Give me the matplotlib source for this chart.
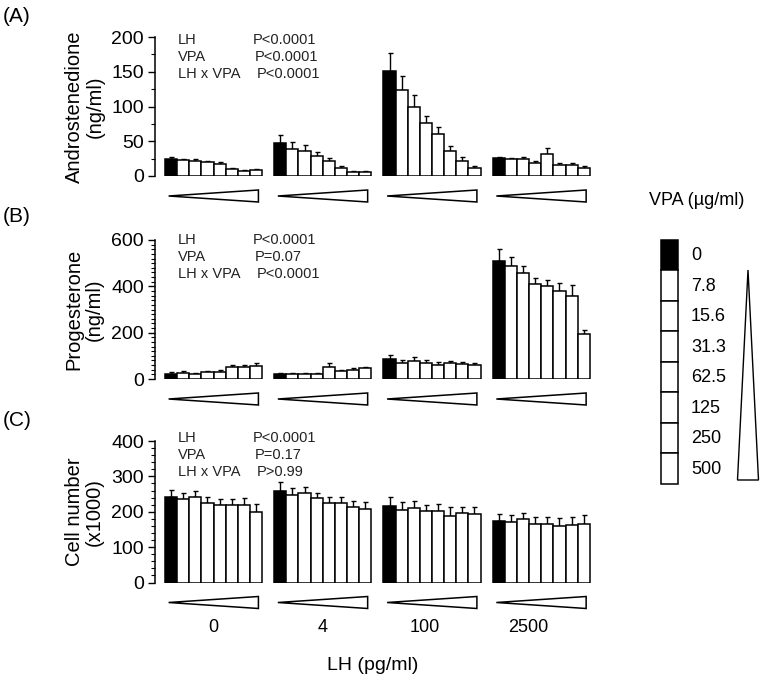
import numpy as np
import matplotlib
matplotlib.use("Agg")
import matplotlib.pyplot as plt
from matplotlib.patches import Polygon, Rectangle
import matplotlib.transforms as mtransforms

plt.rcParams['font.family'] = ['Liberation Sans', 'DejaVu Sans']

lh_levels = ['0', '4', '100', '2500']
vpa_levels = ['0', '7.8', '15.6', '31.3', '62.5', '125', '250', '500']

# mean and SEM per LH group (rows) and VPA dose (columns)
andro_mean = [[24, 23, 22, 19.5, 17, 10, 7, 8.5],
              [47, 39, 36, 29, 21, 12, 6, 6],
              [151, 124, 100, 76, 60, 36, 22, 11],
              [25.5, 24, 24, 19, 31, 16, 16, 12]]
andro_err = [[3, 2, 3, 2, 3, 1, 1, 1.5],
             [12, 10, 9, 6, 5, 2, 1, 1],
             [26, 20, 17, 11, 11, 7, 6, 3],
             [2, 2, 3, 2, 10, 2, 2, 2]]

prog_mean = [[20, 27, 21, 30, 31, 52, 52, 57],
             [21, 23, 23, 23, 52, 35, 40, 47],
             [88, 68, 79, 71, 61, 68, 65, 61],
             [511, 488, 457, 409, 401, 380, 357, 194]]
prog_err = [[10, 8, 5, 6, 6, 8, 10, 12],
            [4, 4, 4, 4, 18, 6, 8, 6],
            [17, 14, 18, 13, 13, 11, 8, 6],
            [48, 40, 30, 28, 28, 33, 50, 16]]

cell_mean = [[241, 236, 242, 226, 218, 218, 218, 200],
             [260, 248, 253, 239, 225, 225, 213, 208],
             [217, 204, 212, 201, 201, 189, 196, 194],
             [175, 171, 179, 165, 165, 161, 163, 164]]
cell_err = [[21, 17, 16, 17, 19, 18, 22, 21],
            [23, 19, 17, 15, 16, 16, 17, 19],
            [26, 23, 18, 19, 20, 24, 18, 19],
            [20, 19, 17, 20, 19, 20, 22, 26]]

stats_a = [('LH', 'P<0.0001'), ('VPA', 'P<0.0001'), ('LH x VPA', 'P<0.0001')]
stats_b = [('LH', 'P<0.0001'), ('VPA', 'P=0.07'), ('LH x VPA', 'P<0.0001')]
stats_c = [('LH', 'P<0.0001'), ('VPA', 'P=0.17'), ('LH x VPA', 'P>0.99')]

W, H = 764, 681
fig = plt.figure(figsize=(W / 100, H / 100), dpi=100)


def px(x, y):
    return x / W, 1 - y / H


def panel(top, bottom, mean, err, ymax, major, minor, ylabel, letter, letter_y, stats, stats_y):
    ax = fig.add_axes([155 / W, 1 - bottom / H, 440 / W, (bottom - top) / H])
    trans = mtransforms.blended_transform_factory(ax.transData, ax.transAxes)
    for g in range(4):
        x = g * 9 + np.arange(8)
        colors = ['black'] + ['white'] * 7
        ax.bar(x, mean[g], width=1.0, color=colors, edgecolor='black', linewidth=1.1, zorder=2)
        ax.errorbar(x, mean[g], yerr=[np.zeros(8), err[g]], fmt='none', ecolor='black',
                    elinewidth=1.0, capsize=1.8, capthick=1.0, zorder=1)
        # dose wedge under each group
        y0 = -(14 / (bottom - top))
        y1 = -(26 / (bottom - top))
        ym = (y0 + y1) / 2
        tri = Polygon([[g * 9 - 0.2, ym], [g * 9 + 7.2, y0], [g * 9 + 7.2, y1]], closed=True,
                      facecolor='white', edgecolor='black', linewidth=1.1,
                      transform=trans, clip_on=False)
        ax.add_patch(tri)
    ax.set_xlim(-1.32, 34.93)
    ax.set_ylim(0, ymax)
    ax.set_yticks(np.arange(0, ymax + 1, major))
    ax.set_yticks(np.arange(0, ymax + 1, minor), minor=True)
    ax.tick_params(axis='y', which='major', length=5, width=1, labelsize=14, pad=3)
    ax.tick_params(axis='y', which='minor', length=3, width=0.8)
    ax.set_xticks([])
    for s in ['top', 'right', 'bottom']:
        ax.spines[s].set_visible(False)
    ax.spines['left'].set_linewidth(1.1)
    ax.set_ylabel(ylabel, fontsize=14.5, linespacing=1.1, labelpad=5)
    fig.text(*px(3, letter_y), letter, fontsize=15, va='center', ha='left')
    for i, (name, p) in enumerate(stats):
        yy = stats_y + i * 17
        fig.text(*px(178, yy), name, fontsize=10.5, va='center', ha='left', color='#222222')
        fig.text(*px(253 + 2 * i, yy), p, fontsize=10.5, va='center', ha='left', color='#222222')
    return ax


panel(37, 176, andro_mean, andro_err, 200, 50, 25, 'Androstenedione\n(ng/ml)', '(A)', 16, stats_a, 40)
panel(240, 379, prog_mean, prog_err, 600, 200, 20, 'Progesterone\n(ng/ml)', '(B)', 216, stats_b, 240)
ax_c = panel(441, 582.5, cell_mean, cell_err, 400, 100, 20, 'Cell number\n(x1000)', '(C)', 420, stats_c, 438)

# LH group labels
label_shift = [0, 0, -0.6, -1.1]
for g, lab in enumerate(lh_levels):
    xd = g * 9 + 3.5 + label_shift[g]
    xf = ax_c.transData.transform((xd, 0))[0] / fig.dpi / fig.get_figwidth()
    fig.text(xf, 1 - 628 / H, lab, fontsize=13, ha='center', va='center')
fig.text(*px(373, 665), 'LH (pg/ml)', fontsize=14, ha='center', va='center')

# VPA legend
fig.text(*px(697, 200), 'VPA (µg/ml)', fontsize=13, ha='center', va='center')
box_top, box_h = 239.5, 30.5
for i, lab in enumerate(vpa_levels):
    yb = box_top + i * box_h
    x0, y0 = px(661, yb + box_h)
    fig.patches.append(Rectangle((x0, y0), 17 / W, box_h / H, transform=fig.transFigure,
                                 facecolor='black' if i == 0 else 'white', edgecolor='black',
                                 linewidth=1.1))
    fig.text(*px(691, yb + box_h / 2 + 1), lab, fontsize=13, ha='left', va='center')
tri = Polygon([px(748, 270), px(737.5, 480), px(758.5, 480)], closed=True,
              facecolor='white', edgecolor='black', linewidth=1.0, transform=fig.transFigure)
fig.patches.append(tri)

fig.savefig('out.png', dpi=100)
